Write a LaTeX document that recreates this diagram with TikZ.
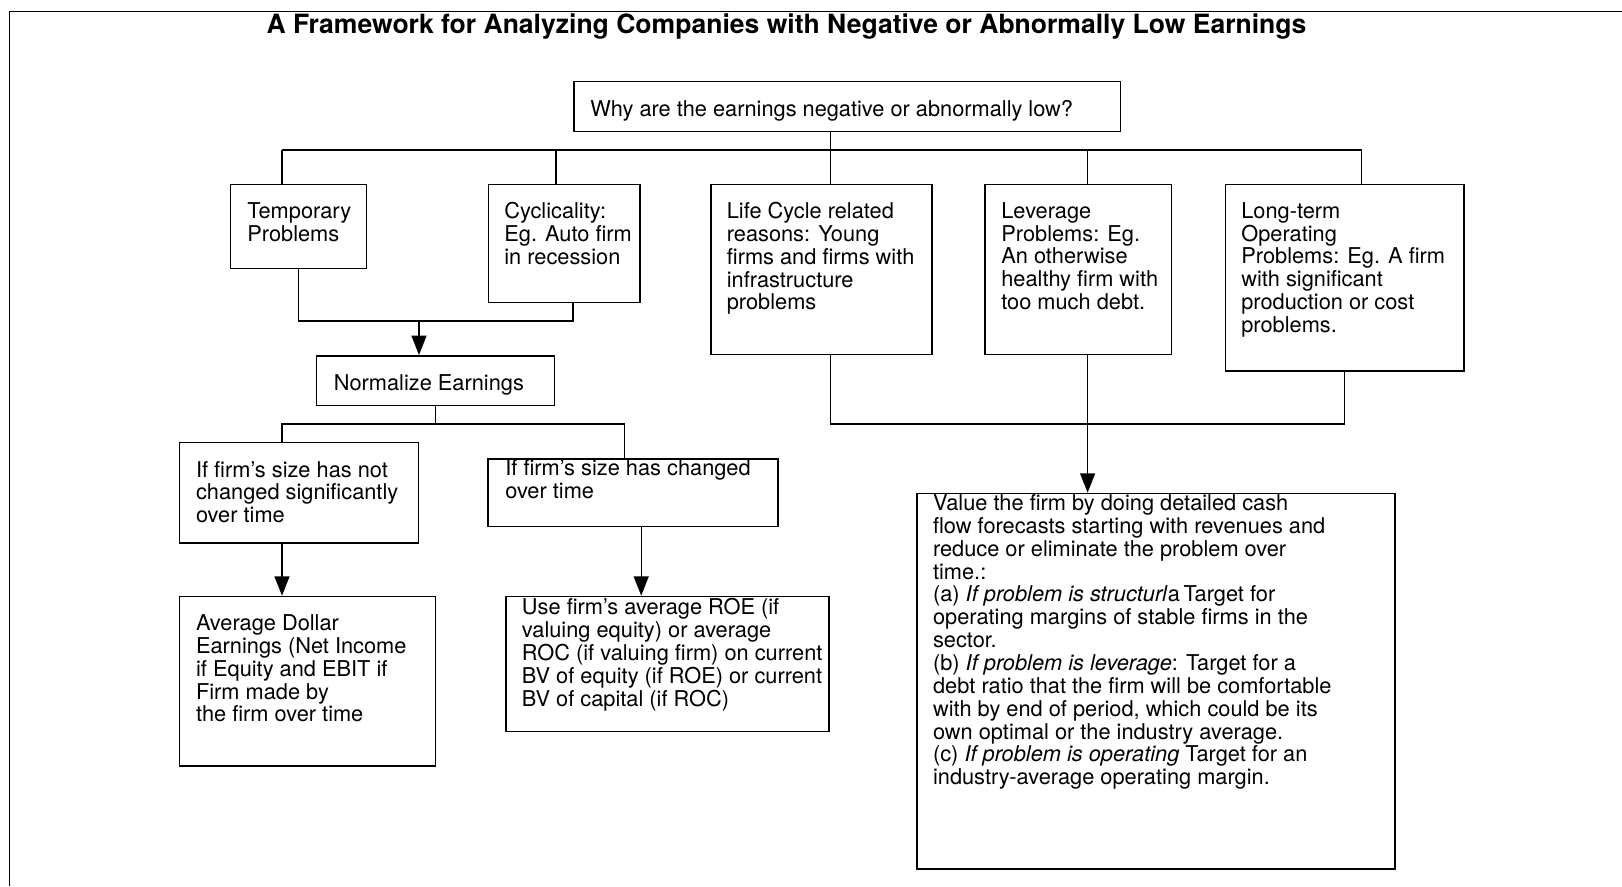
\documentclass[tikz,border=0pt]{standalone}
\usepackage{fontspec}
\setmainfont{TeX Gyre Heros}
\usetikzlibrary{arrows.meta}
\begin{document}
\begin{tikzpicture}[x=0.02cm,y=-0.02cm,
  box/.style={draw,line width=0.85pt,inner sep=0pt,anchor=north west},
  txt/.style={anchor=north west,align=left,inner sep=0pt,font=\fontsize{12.4}{13}\selectfont},
  link/.style={line width=0.8pt},
  arr/.style={link,-{Triangle[length=11pt,width=8.5pt]}}]
\useasboundingbox (0,0) rectangle (1622,886);
\draw[line width=0.6pt] (9.3,886) -- (9.3,11.3) -- (1622,11.3);
\node[anchor=base,font=\bfseries\fontsize{15.1}{18}\selectfont] (title) at (786.5,33) {A Framework for Analyzing Companies with Negative or Abnormally Low Earnings};
% boxes
\node[box,minimum width=10.94cm,minimum height=1cm] (why) at (573,81) {};
\node[box,minimum width=2.72cm,minimum height=1.69cm] (tmp) at (230,183.5) {};
\node[box,minimum width=3.04cm,minimum height=2.37cm] (cyc) at (487.5,183.5) {};
\node[box,minimum width=4.43cm,minimum height=3.41cm] (life) at (710,183.5) {};
\node[box,minimum width=3.74cm,minimum height=3.41cm] (lev) at (984,183.5) {};
\node[box,minimum width=4.77cm,minimum height=3.74cm] (lng) at (1224.6,183.5) {};
\node[box,minimum width=4.76cm,minimum height=1cm] (norm) at (316,355) {};
\node[box,minimum width=4.78cm,minimum height=2.01cm] (nochg) at (178.75,441.7) {};
\node[box,minimum width=5.8cm,minimum height=1.35cm] (chg) at (487.2,458.3) {};
\node[box,minimum width=5.12cm,minimum height=3.39cm] (avg) at (178.75,595.7) {};
\node[box,minimum width=6.47cm,minimum height=2.7cm] (roe) at (505,595.7) {};
\node[box,minimum width=9.57cm,minimum height=7.51cm] (val) at (916,492.7) {};
% texts
\node[txt] (whyT) at (590,100) {Why are the earnings negative or abnormally low?};
\node[txt] (tmpT) at (247,202) {Temporary\\Problems};
\node[txt] (cycT) at (504,202) {Cyclicality:\\Eg. Auto firm\\in recession};
\node[txt] (lifeT) at (726.5,202) {Life Cycle related\\reasons: Young\\firms and firms with\\infrastructure\\problems};
\node[txt] (levT) at (1001,202) {Leverage\\Problems: Eg.\\An otherwise\\healthy firm with\\too much debt.};
\node[txt] (lngT) at (1241,202) {Long-term\\Operating\\Problems: Eg. A firm\\with significant\\production or cost\\problems.};
\node[txt] (normT) at (333.5,374) {Normalize Earnings};
\node[txt] (nochgT) at (195.7,460.7) {If firm's size has not\\changed significantly\\over time};
\node[txt] (chgT) at (505,459) {If firm's size has changed\\over time};
\node[txt] (avgT) at (195.7,614.3) {Average Dollar\\Earnings (Net Income\\if Equity and EBIT if\\Firm made by\\the firm over time};
\node[txt] (roeT) at (521.6,598.3) {Use firm's average ROE (if\\valuing equity) or average\\ROC (if valuing firm) on current\\BV of equity (if ROE) or current\\BV of capital (if ROC)};
\node[txt] (valT) at (932.7,494.3) {Value the firm by doing detailed cash\\flow forecasts starting with revenues and\\reduce or eliminate the problem over\\time.:\\(a) \textit{If problem is structurl}a\,Target for\\operating margins of stable firms in the\\sector.\\(b) \textit{If problem is leverage}: Target for a\\debt ratio that the firm will be comfortable\\with by end of period, which could be its\\own optimal or the industry average.\\(c) \textit{If problem is operating} Target for an\\industry-average operating margin.};
% connectors
\coordinate (b1) at (282,150);
\coordinate (b2) at (556,150);
\coordinate (b3) at (830.6,150);
\coordinate (b4) at (1087.6,150);
\coordinate (b5) at (1361.6,150);
\draw[link] (why.south -| b3) -- (b3);
\draw[link] (b1) -- (b5);
\foreach \b/\n in {b1/tmp,b2/cyc,b3/life,b4/lev,b5/lng} \draw[link] (\b) -- (\b |- \n.north);
\coordinate (m1) at (419,321);
\coordinate (m2) at (573,321);
\draw[link] (tmp.south) |- (m2) -- (m2 |- cyc.south);
\draw[arr] (m1) -- (m1 |- norm.north);
\coordinate (n1) at (282,424);
\coordinate (n2) at (624.3,424);
\coordinate (n3) at (641.2,560);
\draw[link] (norm.south) -- (norm.south |- n1);
\draw[link] (n1 |- nochg.north) -- (n1) -- (n2) -- (n2 |- chg.north);
\draw[arr] (n1 |- nochg.south) -- (n1 |- avg.north);
\draw[arr] (n3 |- chg.south) -- (n3 |- roe.north);
\coordinate (r1) at (830.6,424);
\coordinate (r2) at (1344.5,424);
\draw[link] (r1 |- life.south) -- (r1) -- (r2) -- (r2 |- lng.south);
\draw[arr] (b4 |- lev.south) -- (b4 |- val.north);
\end{tikzpicture}
\end{document}
